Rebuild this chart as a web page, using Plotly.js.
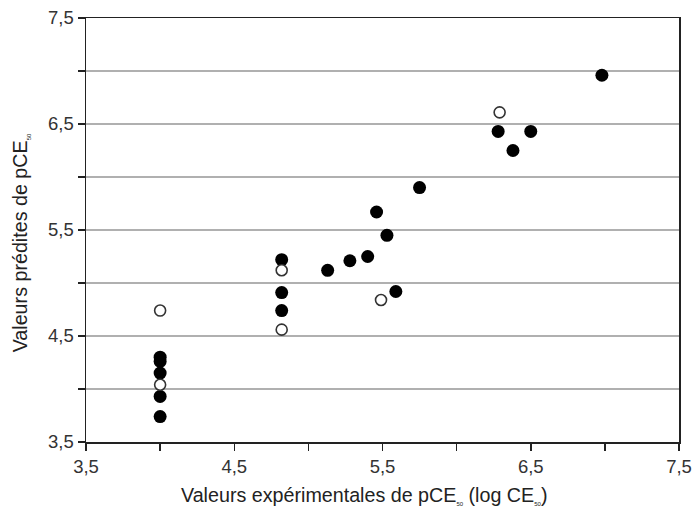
<!DOCTYPE html>
<html>
<head>
<meta charset="utf-8">
<script src="https://cdn.plot.ly/plotly-3.0.1.min.js"></script>
<style>html,body{margin:0;padding:0;background:#fff;}#chart{width:692px;height:513px;}</style>
</head>
<body>
<div id="chart"></div>
<script>
// Filled points (training set)
var filledX = [4.0, 4.0, 4.0, 4.0, 4.0, 4.82, 4.82, 4.82, 5.13, 5.28, 5.40, 5.53, 5.46, 5.59, 5.75, 6.28, 6.50, 6.38, 6.98];
var filledY = [4.30, 4.26, 4.15, 3.93, 3.74, 5.22, 4.91, 4.74, 5.12, 5.21, 5.25, 5.45, 5.67, 4.92, 5.90, 6.43, 6.43, 6.25, 6.96];
// Open points (test set)
var openX = [4.0, 4.0, 4.82, 4.82, 5.49, 6.29];
var openY = [4.74, 4.04, 5.12, 4.56, 4.84, 6.61];

var axisTickVals = [3.5, 4.5, 5.5, 6.5, 7.5];
var axisTickText = ['3,5', '4,5', '5,5', '6,5', '7,5'];

var sub = '<sub><span style="font-size:6px">50</span></sub>';
var xTitle = 'Valeurs expérimentales de pCE' + sub + ' (log CE' + sub + ')';
var yTitle = 'Valeurs prédites de pCE' + sub;

var traces = [
  {x: filledX, y: filledY, type: 'scatter', mode: 'markers',
   marker: {size: 13, color: '#000', line: {width: 0}}, hoverinfo: 'x+y'},
  {x: openX, y: openY, type: 'scatter', mode: 'markers',
   marker: {size: 11, color: '#fff', line: {width: 1.6, color: '#333'}}, hoverinfo: 'x+y'}
];

var FONT = 'Liberation Sans, Arial, sans-serif';

var baseAxis = {
  range: [3.5, 7.5],
  tickmode: 'array',
  tickvals: axisTickVals,
  ticktext: axisTickText,
  ticks: 'outside',
  ticklen: 7,
  tickwidth: 1.5,
  tickcolor: '#222',
  showline: true,
  linecolor: '#222',
  linewidth: 1.5,
  mirror: true,
  zeroline: false,
  ticklabeloverflow: 'allow',
  tickfont: {family: FONT, size: 18.5, color: '#333'},
  minor: {tickmode: 'array', tickvals: [4.0, 5.0, 6.0, 7.0], ticks: 'outside', ticklen: 7, tickwidth: 1.5, tickcolor: '#222'}
};

var xaxis = Object.assign({}, baseAxis, {showgrid: false});
xaxis.minor = Object.assign({}, baseAxis.minor, {showgrid: false});

var yaxis = Object.assign({}, baseAxis, {
  showgrid: true,
  gridcolor: '#b0b0b0',
  gridwidth: 1.5
});
yaxis.minor = Object.assign({}, baseAxis.minor, {showgrid: true, gridcolor: '#b0b0b0', gridwidth: 1.5});

var titleFont = {family: FONT, size: 19.7, color: '#222'};

var layout = {
  width: 692, height: 513,
  margin: {l: 86, r: 13, t: 18, b: 71},
  paper_bgcolor: '#fff', plot_bgcolor: '#fff',
  showlegend: false,
  xaxis: xaxis,
  yaxis: yaxis,
  annotations: [
    {text: xTitle, xref: 'paper', yref: 'paper', x: 0.468, y: -0.125,
     xanchor: 'center', yanchor: 'middle', showarrow: false, font: titleFont},
    {text: yTitle, xref: 'paper', yref: 'paper', x: -0.111, y: 0.469, textangle: -90,
     xanchor: 'center', yanchor: 'middle', showarrow: false, font: titleFont}
  ]
};

Plotly.newPlot('chart', traces, layout, {displayModeBar: false, staticPlot: true});
</script>
</body>
</html>
